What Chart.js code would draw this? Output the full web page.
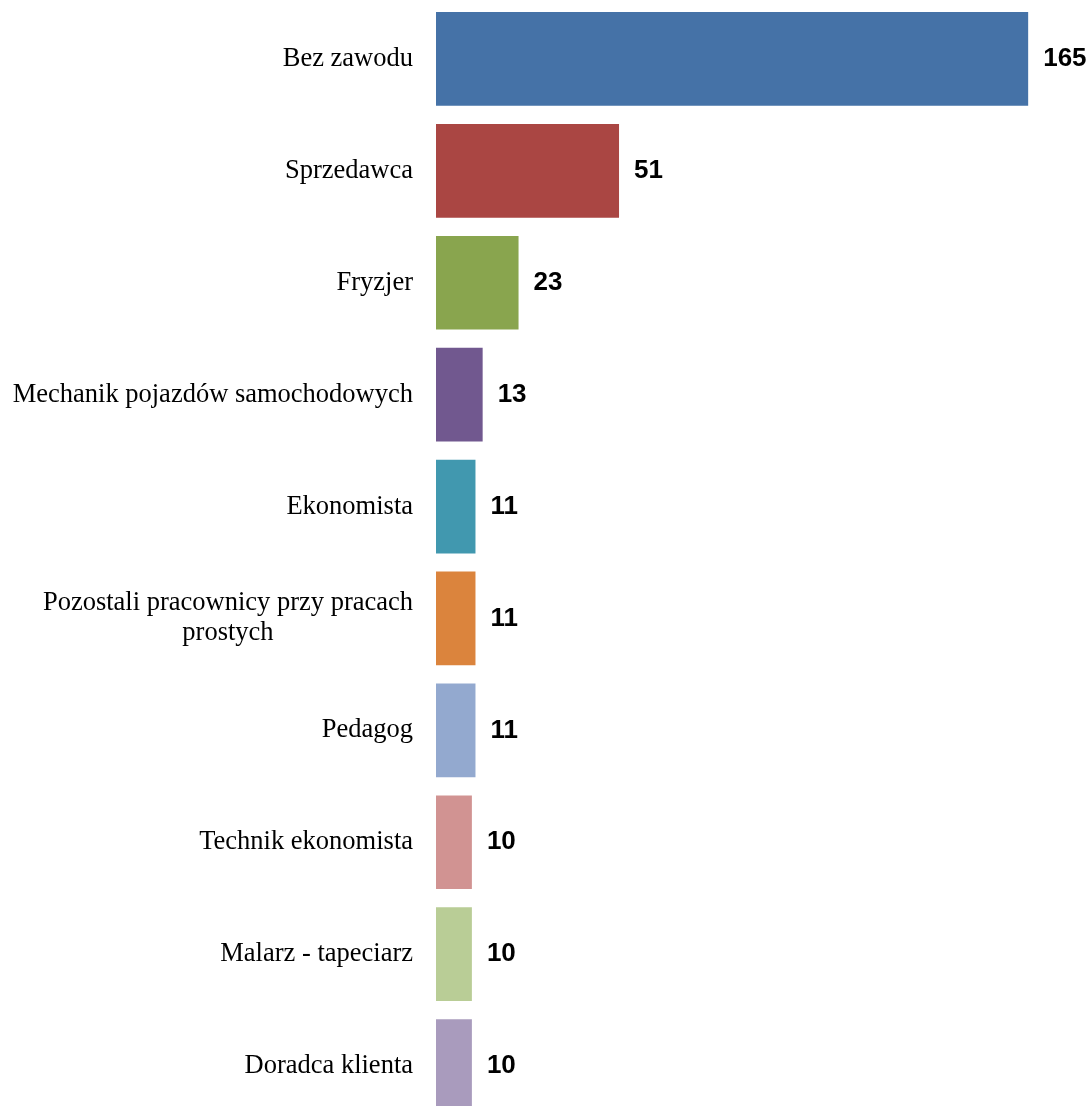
<!DOCTYPE html>
<html>
<head>
<meta charset="utf-8">
<script src="https://cdn.jsdelivr.net/npm/chart.js@4/dist/chart.umd.min.js"></script>
<style>
  html, body { margin: 0; padding: 0; background: #fff; overflow: hidden; }
  #wrap { width: 1090px; height: 1106px; overflow: hidden; }
</style>
</head>
<body>
<div id="wrap"><canvas id="jobsChart" width="1090" height="1125"></canvas></div>
<script>
// Data
const categories = [
  'Bez zawodu',
  'Sprzedawca',
  'Fryzjer',
  'Mechanik pojazdów samochodowych',
  'Ekonomista',
  ['Pozostali pracownicy przy pracach', 'prostych'],
  'Pedagog',
  'Technik ekonomista',
  'Malarz - tapeciarz',
  'Doradca klienta'
];
const counts = [165, 51, 23, 13, 11, 11, 11, 10, 10, 10];
const barColors = [
  '#4572A7', '#AA4643', '#89A54E', '#71588F', '#4198AF',
  '#DB843D', '#93A9CF', '#D19392', '#B9CD96', '#A99BBD'
];

// Category labels: block right-aligned to the bars, lines centered inside the block
const categoryLabels = {
  id: 'categoryLabels',
  afterDraw(chart) {
    const ctx = chart.ctx;
    const yScale = chart.scales.y;
    const right = chart.chartArea.left - 23;
    const lineHeight = 30;
    ctx.save();
    ctx.font = '26.5px "Liberation Serif", "Times New Roman", serif';
    ctx.fillStyle = '#000';
    ctx.textBaseline = 'middle';
    ctx.textAlign = 'center';
    categories.forEach((label, i) => {
      const lines = Array.isArray(label) ? label : [label];
      const blockWidth = Math.max(...lines.map(l => ctx.measureText(l).width));
      const cx = right - blockWidth / 2;
      const cy = yScale.getPixelForValue(i);
      const startY = cy - (lines.length - 1) * lineHeight / 2;
      lines.forEach((line, j) => {
        ctx.fillText(line, cx, startY + j * lineHeight);
      });
    });
    ctx.restore();
  }
};

// Value labels to the right of each bar
const valueLabels = {
  id: 'valueLabels',
  afterDatasetsDraw(chart) {
    const ctx = chart.ctx;
    const meta = chart.getDatasetMeta(0);
    ctx.save();
    ctx.font = 'bold 26px "Liberation Sans", Arial, sans-serif';
    ctx.fillStyle = '#000';
    ctx.textBaseline = 'middle';
    ctx.textAlign = 'left';
    meta.data.forEach((bar, i) => {
      ctx.fillText(String(counts[i]), bar.x + 15, bar.y);
    });
    ctx.restore();
  }
};

const ctx = document.getElementById('jobsChart').getContext('2d');
new Chart(ctx, {
  type: 'bar',
  data: {
    labels: categories,
    datasets: [{
      data: counts,
      backgroundColor: barColors,
      borderWidth: 0,
      categoryPercentage: 1,
      barPercentage: 0.837
    }]
  },
  options: {
    indexAxis: 'y',
    responsive: false,
    animation: false,
    layout: {
      padding: { left: 436, right: 8, top: 3, bottom: 3 }
    },
    scales: {
      x: { display: false, min: 0, max: 180 },
      y: { display: false }
    },
    plugins: {
      legend: { display: false },
      tooltip: { enabled: false }
    }
  },
  plugins: [categoryLabels, valueLabels]
});
</script>
</body>
</html>
